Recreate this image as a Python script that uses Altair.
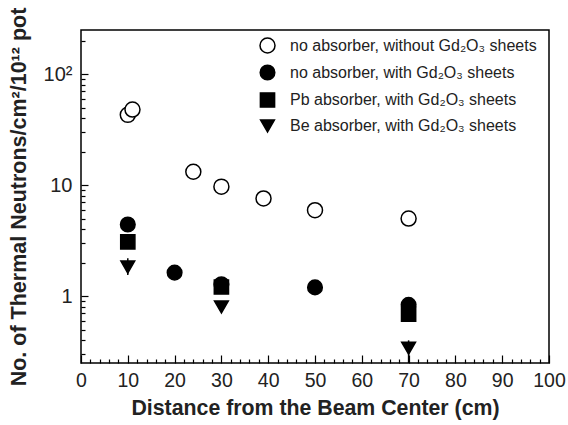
import altair as alt
import pandas as pd

series_names = [
    "no absorber, without Gd₂O₃ sheets",
    "no absorber, with Gd₂O₃ sheets",
    "Pb absorber, with Gd₂O₃ sheets",
    "Be absorber, with Gd₂O₃ sheets",
]
series_shapes = ["circle", "circle", "square", "triangle-down"]
series_fills = ["white", "black", "black", "black"]
series_sizes = [225, 190, 210, 150]

open_x = [10, 11, 24, 30, 39, 50, 70]
open_y = [43.0, 48.0, 13.2, 9.7, 7.6, 5.95, 5.0]
noabs_x = [10, 20, 30, 50, 70]
noabs_y = [4.42, 1.63, 1.28, 1.2, 0.835]
pb_x = [10, 30, 70]
pb_y = [3.08, 1.21, 0.69]
be_x = [10, 30, 70]
be_y = [1.83, 0.80, 0.34]
err_x = [10, 70]
err_lo = [1.55, 0.25]
err_hi = [2.2, 0.40]

x_major = list(range(0, 101, 10))
x_minor = [v for v in range(2, 100, 2) if v % 10 != 0]
y_major = [1, 10, 100]
y_minor = [0.3, 0.4, 0.5, 0.6, 0.7, 0.8, 0.9,
           2, 3, 4, 5, 6, 7, 8, 9,
           20, 30, 40, 50, 60, 70, 80, 90, 200]

rows = []
for name, xs, ys in zip(series_names, [open_x, noabs_x, pb_x, be_x], [open_y, noabs_y, pb_y, be_y]):
    for a, b in zip(xs, ys):
        rows.append({"x": a, "y": b, "series": name})
df = pd.DataFrame(rows)
err = pd.DataFrame({"x": err_x, "lo": err_lo, "hi": err_hi})

FONT = "Liberation Sans"
INK = "#222"
xscale = alt.Scale(domain=[0, 100], nice=False, zero=False)
yscale = alt.Scale(type="log", domain=[0.25, 250], nice=False)


def tick_layer(xvals, yvals, xlen, ylen):
    return alt.Chart(df).mark_point(opacity=0).encode(
        x=alt.X("x:Q", scale=xscale, axis=alt.Axis(
            orient="bottom", values=xvals, labels=False, domain=False, grid=False,
            ticks=True, tickSize=xlen, offset=-xlen, tickColor="black", tickWidth=1.2, title=None)),
        y=alt.Y("y:Q", scale=yscale, axis=alt.Axis(
            orient="left", values=yvals, labels=False, domain=False, grid=False,
            ticks=True, tickSize=ylen, offset=-ylen, tickColor="black", tickWidth=1.2, title=None)),
    )


major = tick_layer(x_major, y_major, 8, 7)
minor = tick_layer(x_minor, y_minor, 4, 4)

bars = alt.Chart(err).mark_rule(color="black", strokeWidth=1.5).encode(
    x=alt.X("x:Q", scale=xscale, axis=None),
    y=alt.Y("lo:Q", scale=yscale, axis=None),
    y2="hi:Q",
)

legend = alt.Legend(
    title=None, orient="none", legendX=178, legendY=7, padding=0,
    labelFont=FONT, labelFontSize=16, labelColor=INK, labelOffset=14, labelLimit=0,
    rowPadding=6, symbolStrokeWidth=1.5,
)

points = alt.Chart(df).mark_point(filled=True, strokeWidth=1.5, opacity=1).encode(
    x=alt.X("x:Q", scale=xscale, axis=alt.Axis(
        orient="bottom", values=x_major, ticks=False, domain=False, grid=False,
        labelFlush=False, labelOverlap=False,
        labelFont=FONT, labelFontSize=19.5, labelColor=INK, labelPadding=8,
        title="Distance from the Beam Center (cm)", titleFont=FONT, titleFontSize=21.3,
        titleFontWeight="bold", titleColor=INK, titlePadding=8)),
    y=alt.Y("y:Q", scale=yscale, axis=alt.Axis(
        orient="left", values=y_major, ticks=False, domain=False, grid=False,
        labelFlush=False, labelOverlap=False,
        labelExpr="datum.value == 100 ? '10²' : datum.label",
        labelFont=FONT, labelFontSize=20, labelColor=INK, labelPadding=9,
        title="No. of Thermal Neutrons/cm²/10¹² pot", titleFont=FONT, titleFontSize=21.5,
        titleFontWeight="bold", titleColor=INK, titlePadding=13)),
    shape=alt.Shape("series:N", sort=series_names,
                    scale=alt.Scale(domain=series_names, range=series_shapes), legend=legend),
    fill=alt.Fill("series:N", sort=series_names,
                  scale=alt.Scale(domain=series_names, range=series_fills), legend=legend),
    stroke=alt.Stroke("series:N", sort=series_names,
                      scale=alt.Scale(domain=series_names, range=["black"] * 4), legend=legend),
    size=alt.Size("series:N", sort=series_names,
                  scale=alt.Scale(domain=series_names, range=series_sizes), legend=legend),
)

chart = alt.layer(major, minor, bars, points).resolve_axis(
    x="independent", y="independent"
).properties(
    width=468, height=333,
    autosize=alt.AutoSizeParams(type="none"),
    padding={"left": 81, "top": 30, "right": 19, "bottom": 62},
    background="white",
).configure_view(stroke="black", strokeWidth=1.5)

chart.save("out.html", embed_options={"renderer": "svg", "actions": False})
